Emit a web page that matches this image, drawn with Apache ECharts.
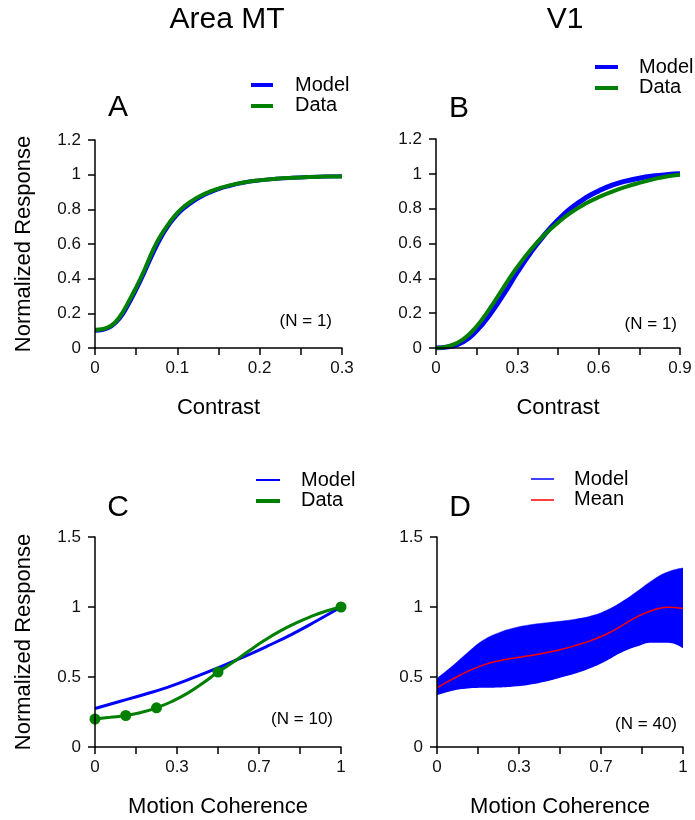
<!DOCTYPE html>
<html><head><meta charset="utf-8">
<script src="https://cdn.jsdelivr.net/npm/echarts@6/dist/echarts.min.js"></script>
<style>html,body{margin:0;padding:0;background:#fff}#c{width:695px;height:820px}</style>
</head><body><div id="c"></div>
<script>
// ---- Panel A (Area MT, contrast) ----
const contrastA = [0,0.01,0.02,0.03,0.04,0.05,0.06,0.07,0.08,0.09,0.10,0.11,0.12,0.13,0.14,0.15,0.16,0.18,0.20,0.22,0.24,0.26,0.28,0.30];
const dataA  = [0.105,0.11,0.13,0.18,0.26,0.35,0.45,0.56,0.65,0.72,0.78,0.823,0.856,0.882,0.903,0.92,0.934,0.955,0.968,0.977,0.982,0.986,0.989,0.99];
const modelA = [0.1,0.105,0.125,0.17,0.245,0.335,0.435,0.54,0.635,0.71,0.77,0.813,0.848,0.876,0.898,0.916,0.931,0.953,0.967,0.976,0.982,0.986,0.989,0.991];
// ---- Panel B (V1, contrast) ----
const contrastB = [0,0.05,0.1,0.15,0.2,0.25,0.3,0.35,0.4,0.45,0.5,0.55,0.6,0.65,0.7,0.75,0.8,0.85,0.9];
const dataB  = [0,0.012,0.05,0.125,0.23,0.35,0.465,0.565,0.65,0.72,0.78,0.828,0.866,0.898,0.925,0.948,0.968,0.985,0.995];
const modelB = [0,0.008,0.035,0.1,0.195,0.31,0.435,0.55,0.65,0.735,0.805,0.86,0.902,0.935,0.958,0.975,0.987,0.995,1.0];
// ---- Panel C (Area MT, motion coherence) ----
const coherencePtsC = [0,0.125,0.25,0.5,1];
const dataPtsC      = [0.2,0.225,0.28,0.535,1.0];
const coherenceCurveC = [0,0.0625,0.125,0.1875,0.25,0.3125,0.375,0.4375,0.5,0.5625,0.625,0.6875,0.75,0.8125,0.875,0.9375,1];
const dataCurveC      = [0.2,0.212,0.225,0.247,0.28,0.325,0.383,0.455,0.535,0.607,0.685,0.76,0.826,0.882,0.93,0.97,1.0];
const coherenceModelC = [0,0.1,0.2,0.3,0.4,0.5,0.6,0.7,0.8,0.9,1];
const modelC          = [0.275,0.325,0.375,0.43,0.495,0.565,0.64,0.72,0.805,0.9,1.0];
// ---- Panel D (V1, motion coherence) ----
const coherenceD = [0,0.0625,0.125,0.1875,0.25,0.3125,0.375,0.4375,0.5,0.5625,0.625,0.6875,0.75,0.8125,0.875,0.9375,1];
const meanD  = [0.423,0.485,0.54,0.585,0.615,0.635,0.652,0.672,0.695,0.725,0.76,0.805,0.865,0.93,0.975,0.998,0.99];
const upperD = [0.49,0.578,0.675,0.762,0.815,0.85,0.872,0.886,0.898,0.913,0.935,0.975,1.035,1.11,1.19,1.25,1.278];
const lowerD = [0.37,0.402,0.418,0.423,0.425,0.432,0.445,0.466,0.495,0.525,0.565,0.615,0.675,0.718,0.745,0.745,0.705];
// ---- tick labels ----
const yTicksAB = [0,0.2,0.4,0.6,0.8,1,1.2];
const yTicksCD = [0,0.5,1,1.5];
const xLabelsCD = ['0','0.3','0.7','1'];

const FONT = 'Liberation Sans';
const BLUE = '#0000ff', GREEN = '#008000', RED = '#ff0000';
const zip = (xs, ys) => xs.map((x, i) => [x, ys[i]]);

const grids = [
  {left:95,  top:140, width:247, height:208},
  {left:436, top:139, width:244, height:209},
  {left:95,  top:537, width:246, height:210},
  {left:437, top:537, width:246, height:210}
];

function baseAxis(gi) {
  return {
    gridIndex: gi, type: 'value', min: 0, z: 6,
    axisLine: {show: true, onZero: false, lineStyle: {color: '#000', width: 1.5}},
    axisTick: {show: true, inside: false, length: 7, lineStyle: {color: '#000', width: 1.5}},
    splitLine: {show: false},
    axisLabel: {color: '#111', fontSize: 17, fontFamily: FONT},
    nameTextStyle: {color: '#000', fontSize: 22, fontFamily: FONT}
  };
}
function xAx(gi, max, interval, fmt, name) {
  const a = baseAxis(gi);
  a.max = max; a.interval = interval;
  a.axisLabel.margin = 12; a.axisLabel.formatter = fmt;
  a.name = name; a.nameLocation = 'middle'; a.nameGap = 49;
  return a;
}
function yAx(gi, ticks, name) {
  const a = baseAxis(gi);
  a.max = ticks[ticks.length - 1]; a.interval = ticks[1] - ticks[0];
  a.axisLabel.margin = 14;
  if (name) { a.name = name; a.nameLocation = 'middle'; a.nameGap = 60; }
  return a;
}
const fmtA = v => (Math.round(v / 0.05) % 2 === 0) ? String(Math.round(v * 10) / 10) : '';
const fmtB = v => (Math.round(v / 0.15) % 2 === 0) ? String(Math.round(v * 10) / 10) : '';
const fmtCD = v => { const k = Math.round(v * 6); return k % 2 === 0 ? xLabelsCD[k / 2] : ''; };

function txt(x, y, s, size, align) {
  return {type: 'text', x, y, z: 10, style: {text: s, fill: '#000', font: size + 'px "' + FONT + '"', textAlign: align || 'center', verticalAlign: 'middle', textVerticalAlign: 'middle'}};
}
function seg(x1, x2, y, color, w) {
  return {type: 'line', z: 10, shape: {x1, y1: y, x2, y2: y}, style: {stroke: color, lineWidth: w}};
}

const graphic = [
  txt(227, 20, 'Area MT', 30), txt(565, 20, 'V1', 30),
  txt(118, 108, 'A', 30), txt(459, 109, 'B', 30), txt(118, 508, 'C', 30), txt(460, 508, 'D', 30),
  seg(251, 273, 85, BLUE, 4), seg(251, 273, 106, GREEN, 4), txt(295, 85, 'Model', 20, 'left'), txt(295, 105, 'Data', 20, 'left'),
  seg(595, 618, 67, BLUE, 4), seg(595, 618, 88, GREEN, 4), txt(639, 67, 'Model', 20, 'left'), txt(639, 87, 'Data', 20, 'left'),
  seg(256, 280, 480, BLUE, 2), seg(256, 280, 501, GREEN, 4), txt(301, 480, 'Model', 20, 'left'), txt(301, 500, 'Data', 20, 'left'),
  seg(531, 554, 479, BLUE, 1.5), seg(531, 554, 500, RED, 1.5), txt(574, 479, 'Model', 20, 'left'), txt(574, 499, 'Mean', 20, 'left'),
  txt(332, 321, '(N = 1)', 17, 'right'), txt(677, 324, '(N = 1)', 17, 'right'),
  txt(333, 719, '(N = 10)', 17, 'right'), txt(677, 724, '(N = 40)', 17, 'right')
];

const option = {
  animation: false,
  backgroundColor: '#fff',
  textStyle: {fontFamily: FONT},
  grid: grids,
  xAxis: [
    xAx(0, 0.3, 0.05, fmtA, 'Contrast'),
    xAx(1, 0.9, 0.15, fmtB, 'Contrast'),
    xAx(2, 1, 1/6, fmtCD, 'Motion Coherence'),
    xAx(3, 1, 1/6, fmtCD, 'Motion Coherence')
  ],
  yAxis: [
    yAx(0, yTicksAB, 'Normalized Response'),
    yAx(1, yTicksAB, null),
    yAx(2, yTicksCD, 'Normalized Response'),
    yAx(3, yTicksCD, null)
  ],
  graphic: graphic,
  series: [
    {name: 'Model', type: 'line', xAxisIndex: 0, yAxisIndex: 0, data: zip(contrastA, modelA), smooth: true, showSymbol: false, lineStyle: {color: BLUE, width: 4}, z: 2},
    {name: 'Data', type: 'line', xAxisIndex: 0, yAxisIndex: 0, data: zip(contrastA, dataA), smooth: true, showSymbol: false, lineStyle: {color: GREEN, width: 4}, z: 3},
    {name: 'Model', type: 'line', xAxisIndex: 1, yAxisIndex: 1, data: zip(contrastB, modelB), smooth: true, showSymbol: false, lineStyle: {color: BLUE, width: 5}, z: 2},
    {name: 'Data', type: 'line', xAxisIndex: 1, yAxisIndex: 1, data: zip(contrastB, dataB), smooth: true, showSymbol: false, lineStyle: {color: GREEN, width: 4}, z: 3},
    {name: 'Model', type: 'line', xAxisIndex: 2, yAxisIndex: 2, data: zip(coherenceModelC, modelC), smooth: true, showSymbol: false, lineStyle: {color: BLUE, width: 3}, z: 2},
    {name: 'Data', type: 'line', xAxisIndex: 2, yAxisIndex: 2, data: zip(coherenceCurveC, dataCurveC), smooth: true, showSymbol: false, lineStyle: {color: GREEN, width: 3}, z: 3},
    {name: 'Data points', type: 'scatter', xAxisIndex: 2, yAxisIndex: 2, data: zip(coherencePtsC, dataPtsC), symbol: 'circle', symbolSize: 11, itemStyle: {color: GREEN, opacity: 1}, z: 4},
    // band: upper edge filled blue down to axis, then lower edge filled white on top
    {name: 'Model', type: 'line', xAxisIndex: 3, yAxisIndex: 3, data: zip(coherenceD, upperD), smooth: true, showSymbol: false, lineStyle: {color: BLUE, width: 0.5}, areaStyle: {color: BLUE, opacity: 1, origin: 'start'}, z: 1},
    {name: 'lower', type: 'line', xAxisIndex: 3, yAxisIndex: 3, data: zip(coherenceD, lowerD), smooth: true, showSymbol: false, lineStyle: {color: '#fff', width: 0}, areaStyle: {color: '#fff', opacity: 1, origin: 'start'}, z: 2},
    {name: 'Mean', type: 'line', xAxisIndex: 3, yAxisIndex: 3, data: zip(coherenceD, meanD), smooth: true, showSymbol: false, lineStyle: {color: RED, width: 1.5}, z: 3}
  ]
};
const chart = echarts.init(document.getElementById('c'), null, {renderer: 'canvas'});
chart.setOption(option);
</script></body></html>
